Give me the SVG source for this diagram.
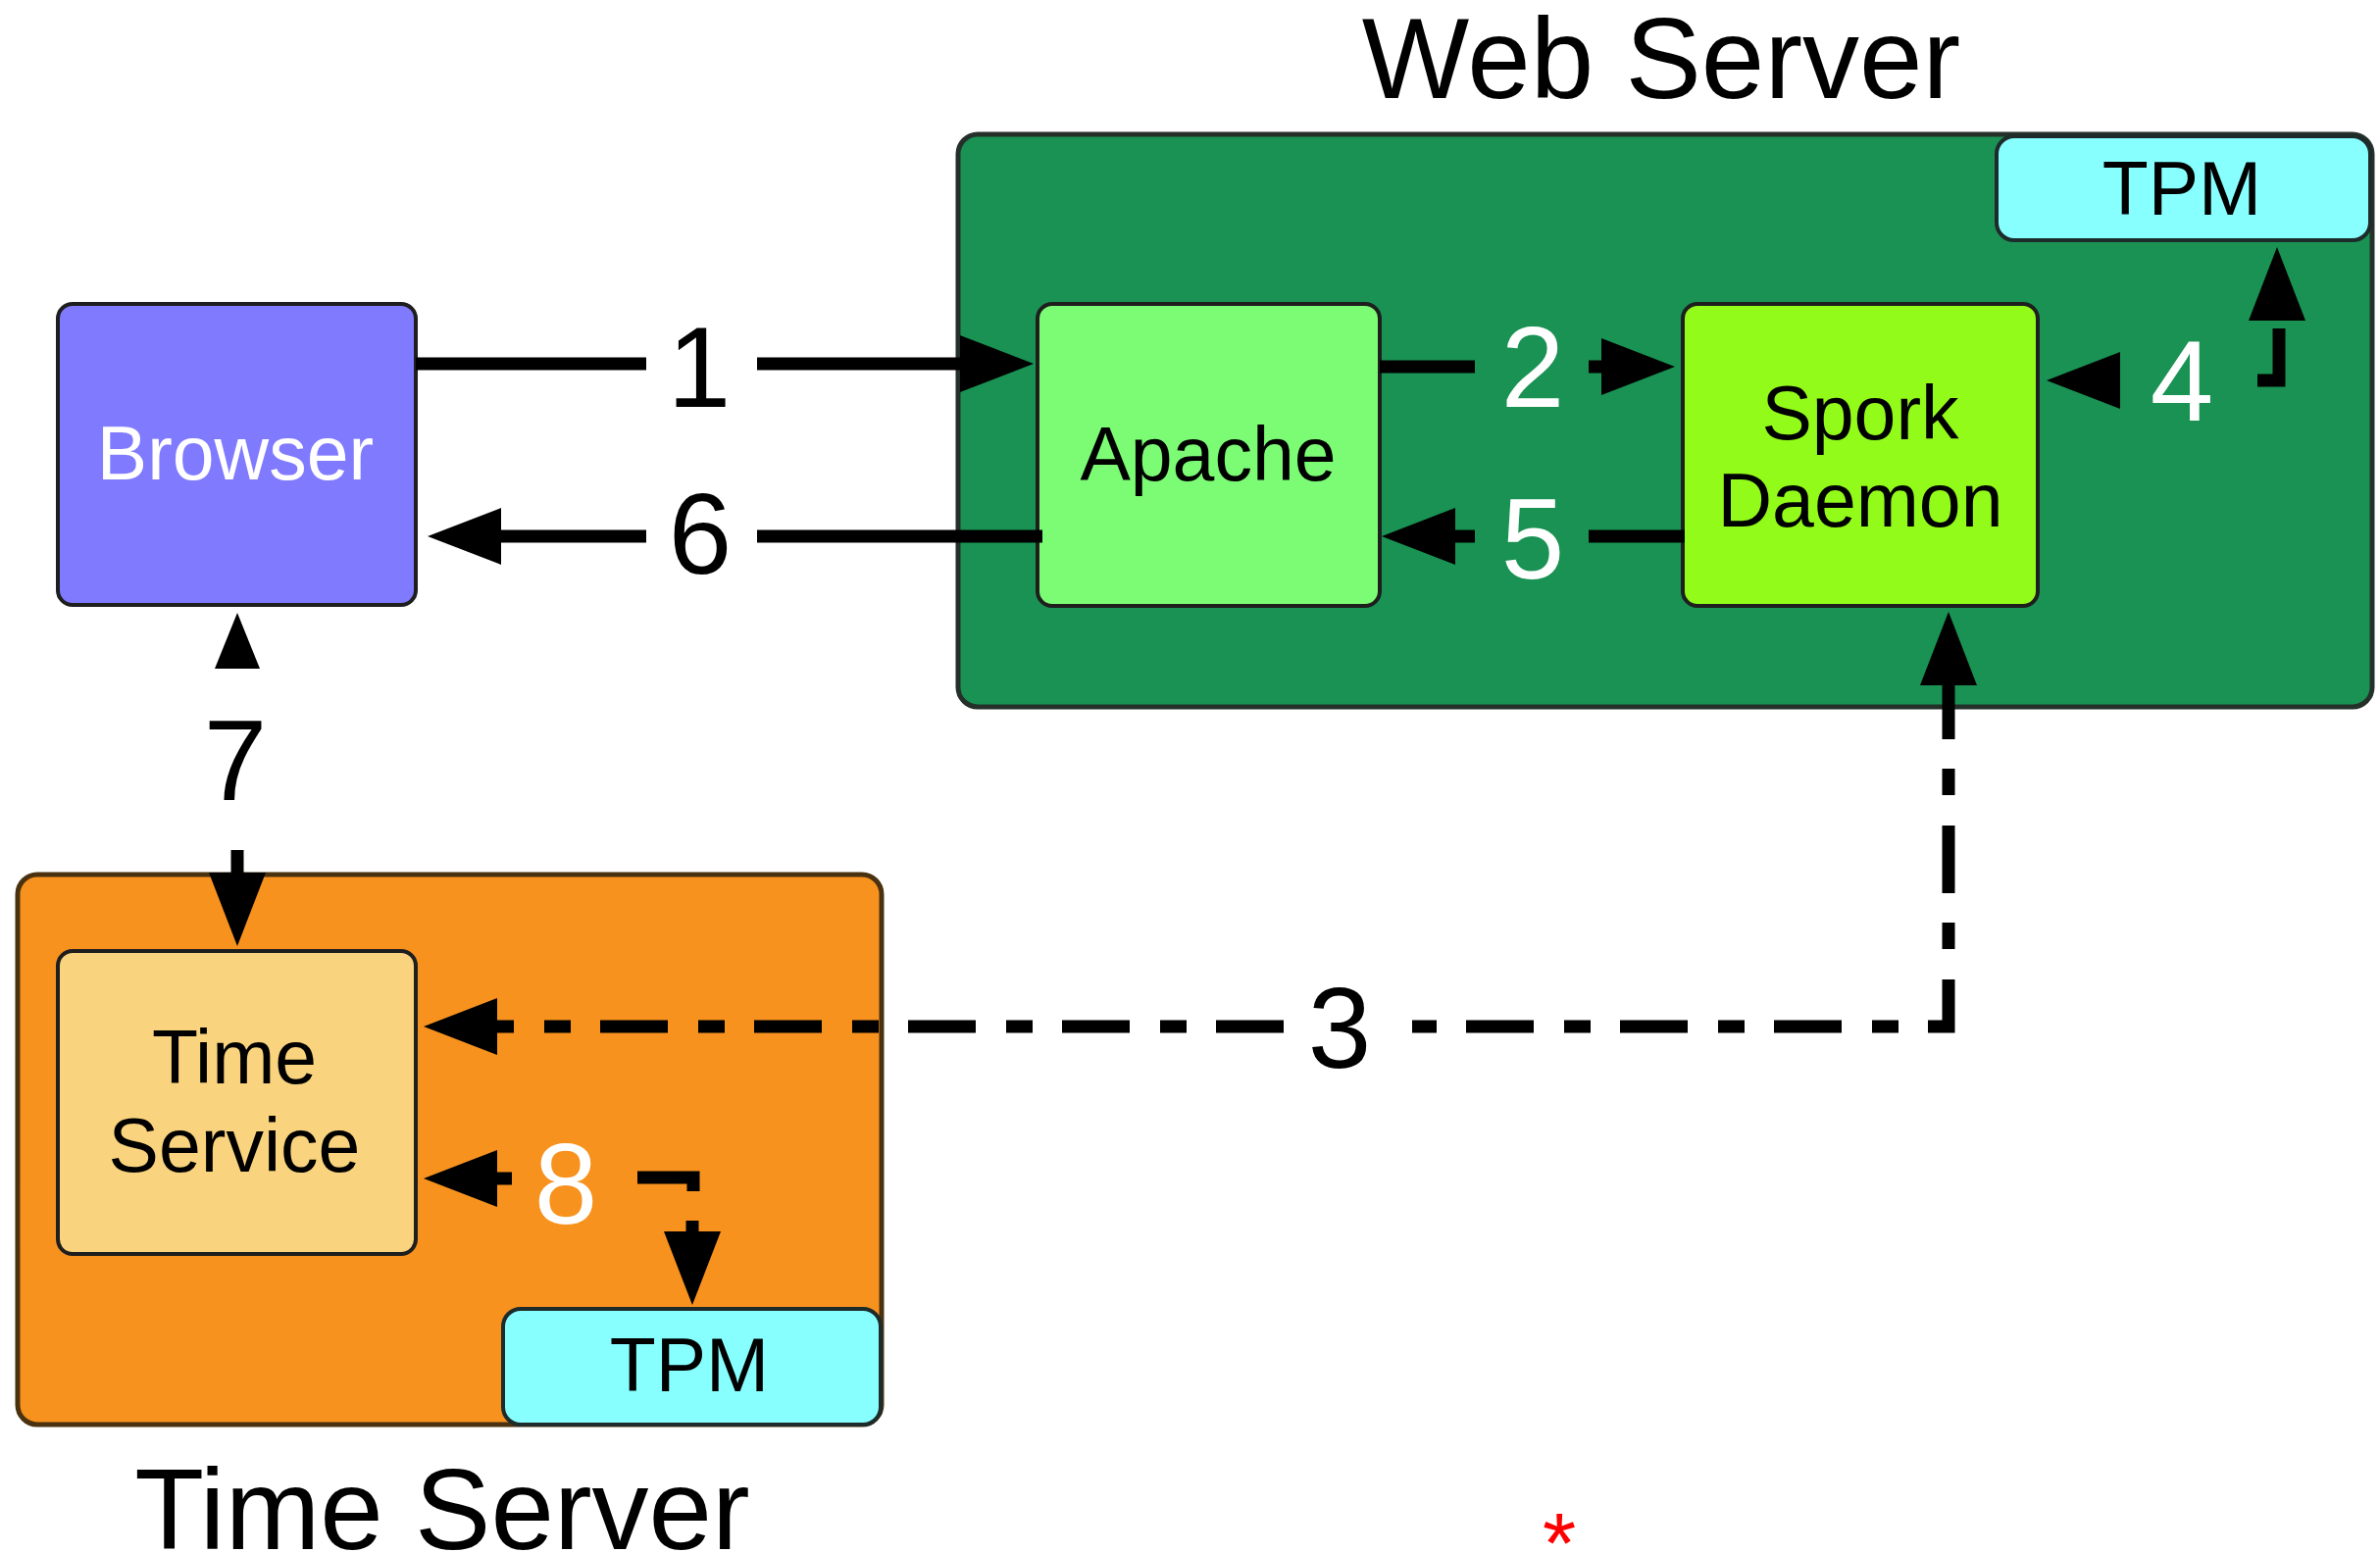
<svg xmlns="http://www.w3.org/2000/svg" width="2427" height="1584" viewBox="0 0 2427 1584">
  <defs>
    <!-- filled arrowhead; placed at the base of the head, pointing along the path -->
    <marker id="arrow" markerUnits="userSpaceOnUse" markerWidth="76" markerHeight="60" viewBox="0 -30 76 60" refX="0" refY="0" orient="auto-start-reverse" overflow="visible">
      <path d="M0,-29 L75,0 L0,29 Z" fill="#000"/>
    </marker>
    <marker id="arrow-sm" markerUnits="userSpaceOnUse" markerWidth="58" markerHeight="48" viewBox="0 -24 58 48" refX="0" refY="0" orient="auto-start-reverse" overflow="visible">
      <path d="M0,-23 L57,0 L0,23 Z" fill="#000"/>
    </marker>
    <style>
      text { font-family: "Liberation Sans", Arial, Helvetica, sans-serif; text-anchor: middle; }
      .title { font-size: 116px; fill: #000; }
      .node-text { font-size: 77px; fill: #000; }
      .num { font-size: 116px; }
      .num-dark { fill: #000; }
      .num-light { fill: #fff; }
      .box { stroke: #1e1e1e; stroke-width: 4; }
      .tpm { fill: #88ffff; stroke: #1d2b2b; stroke-width: 4; }
      .wire { fill: none; stroke: #000; stroke-width: 13; }
      .head-only { fill: none; stroke: none; }
      .dashdot { stroke-dasharray: 69 30 27 31; }
    </style>
  </defs>

  <rect x="0" y="0" width="2427" height="1584" fill="#fff"/>

  <!-- Web server enclosure -->
  <g id="web-server">
    <rect x="977" y="137" width="1442" height="584" rx="20" fill="#199253" stroke="#26302a" stroke-width="5"/>
    <text class="title" x="1694" y="100">Web Server</text>
  </g>

  <g id="tpm-web">
    <rect class="tpm" x="2036" y="139" width="381" height="106" rx="18"/>
    <text class="node-text" x="2225" y="219">TPM</text>
  </g>

  <g id="apache">
    <rect class="box" x="1058" y="310" width="349" height="308" rx="15" fill="#7cfc74"/>
    <text class="node-text" x="1232" y="490">Apache</text>
  </g>

  <g id="spork-daemon">
    <rect class="box" x="1716" y="310" width="362" height="308" rx="15" fill="#93fb1a"/>
    <text class="node-text" x="1897" y="448">Spork</text>
    <text class="node-text" x="1897" y="537">Daemon</text>
  </g>

  <g id="browser">
    <rect class="box" x="59" y="310" width="365" height="307" rx="15" fill="#807aff"/>
    <text class="node-text" x="240" y="489" style="fill:#fff">Browser</text>
  </g>

  <!-- Time server enclosure -->
  <g id="time-server">
    <rect x="18" y="892" width="881" height="561" rx="20" fill="#f7921e" stroke="#4a3210" stroke-width="5"/>
    <text class="title" x="451" y="1580">Time Server</text>
  </g>

  <g id="time-service">
    <rect class="box" x="59" y="970" width="365" height="309" rx="15" fill="#f9d37d"/>
    <text class="node-text" x="239" y="1105">Time</text>
    <text class="node-text" x="239" y="1195">Service</text>
  </g>

  <g id="tpm-time">
    <rect class="tpm" x="513" y="1335" width="385" height="118" rx="18"/>
    <text class="node-text" x="703" y="1419">TPM</text>
  </g>

  <!-- Numbered message flows -->
  <g id="connectors">
    <!-- 1: Browser -> Apache -->
    <path class="wire" d="M424,371 H659"/>
    <path class="wire" d="M772,371 H979" marker-end="url(#arrow)"/>
    <text class="num num-dark" x="713" y="415">1</text>

    <!-- 2: Apache -> Spork Daemon -->
    <path class="wire" d="M1407,374 H1504"/>
    <path class="wire" d="M1620,374 H1633" marker-end="url(#arrow)"/>
    <text class="num num-light" x="1563" y="415">2</text>

    <!-- 3: Spork Daemon <-> Time Service (dash-dot) -->
    <path class="wire dashdot" d="M1987,699 V1047 H1440" stroke-dashoffset="14" marker-start="url(#arrow)"/>
    <path class="wire dashdot" d="M1309,1047 H507" marker-end="url(#arrow)"/>
    <text class="num num-dark" x="1366" y="1089">3</text>

    <!-- 4: Spork Daemon <-> TPM -->
    <path class="head-only" d="M2164,388 H2162" marker-end="url(#arrow)"/>
    <path class="wire" d="M2302,388 H2324 V335"/>
    <path class="head-only" d="M2322,330 V327" marker-end="url(#arrow)"/>
    <text class="num num-light" x="2225" y="429">4</text>

    <!-- 5: Spork Daemon -> Apache -->
    <path class="wire" d="M1718,547 H1620"/>
    <path class="wire" d="M1504,547 H1484" marker-end="url(#arrow)"/>
    <text class="num num-light" x="1563" y="590">5</text>

    <!-- 6: Apache -> Browser -->
    <path class="wire" d="M1063,547 H772"/>
    <path class="wire" d="M659,547 H511" marker-end="url(#arrow)"/>
    <text class="num num-dark" x="714" y="585">6</text>

    <!-- 7: Browser <-> Time Service -->
    <path class="head-only" d="M242,684 V682" marker-end="url(#arrow-sm)"/>
    <path class="wire" d="M242,867 V890" marker-end="url(#arrow)"/>
    <text class="num num-dark" x="240" y="816">7</text>

    <!-- 8: Time Service <-> TPM -->
    <path class="wire" d="M522,1202 H507" marker-end="url(#arrow)"/>
    <path class="wire" d="M650,1201 H707 V1215"/>
    <path class="wire" d="M706,1245 V1256" marker-end="url(#arrow)"/>
    <text class="num num-light" x="577" y="1248">8</text>
  </g>

  <text x="1590" y="1604" font-size="88" fill="#ff0000">*</text>
</svg>
